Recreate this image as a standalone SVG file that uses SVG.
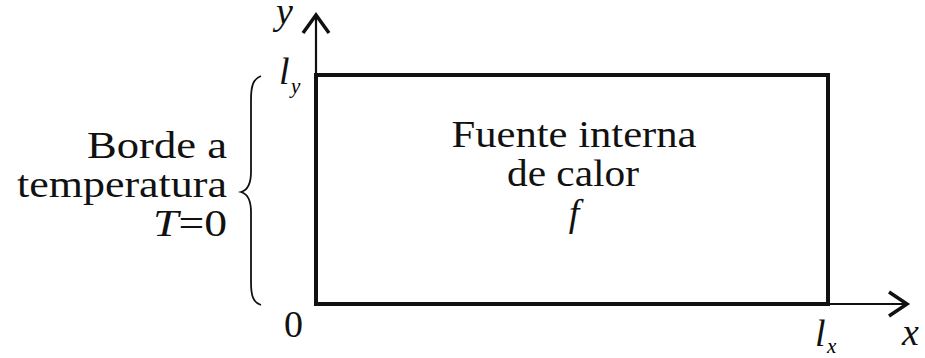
<svg xmlns="http://www.w3.org/2000/svg" width="925" height="358" viewBox="0 0 925 358">
<style>
.t{fill:#111;font-size:38px}
.it{font-style:italic}
.sub{font-size:21px;font-style:italic}
.ax{stroke:#111;stroke-width:2.2;fill:none}
.ah{stroke:#111;stroke-width:3.5;fill:none;stroke-linecap:butt;stroke-linejoin:miter}
</style>
<rect width="925" height="358" fill="#fff"/>
<g id="connectors">
<line class="ax" x1="316" y1="304" x2="316" y2="16"/>
<polyline class="ah" points="303,33 316,15 329,33"/>
<line class="ax" x1="828" y1="304" x2="906" y2="304"/>
<polyline class="ah" points="889,292 907,304 889,316"/>
</g>
<g font-family="Liberation Serif, DejaVu Serif, Times New Roman, serif">
<g id="domain">
<rect x="316" y="75" width="512" height="229" fill="none" stroke="#111" stroke-width="4"/>
<text class="t" x="574" y="147" text-anchor="middle" textLength="245" lengthAdjust="spacingAndGlyphs">Fuente interna</text>
<text class="t" x="573" y="186" text-anchor="middle" textLength="132" lengthAdjust="spacingAndGlyphs">de calor</text>
<text class="t it" x="574" y="226" text-anchor="middle">f</text>
</g>
<g id="boundary">
<path d="M261,76 C253,79 251,86 251,100 L251,172 C251,184 248,190 241,192 C248,194 251,200 251,212 L251,282 C251,296 253,302 261,305" fill="none" stroke="#111" stroke-width="1.8"/>
<text class="t" x="227" y="158" text-anchor="end" textLength="140" lengthAdjust="spacingAndGlyphs">Borde a</text>
<text class="t" x="227" y="197" text-anchor="end" textLength="210" lengthAdjust="spacingAndGlyphs">temperatura</text>
<text class="t" x="227" y="236" text-anchor="end" textLength="74" lengthAdjust="spacingAndGlyphs"><tspan class="it">T</tspan>=0</text>
</g>
<g id="labels">
<text class="t it" x="276" y="24">y</text>
<text class="t it" x="279" y="84">l</text><text class="sub" x="291" y="93">y</text>
<text class="t" x="284" y="337">0</text>
<text class="t it" x="815" y="346">l</text><text class="sub" x="827" y="353">x</text>
<text class="t it" x="902" y="345">x</text>
</g>
</g>
</svg>
